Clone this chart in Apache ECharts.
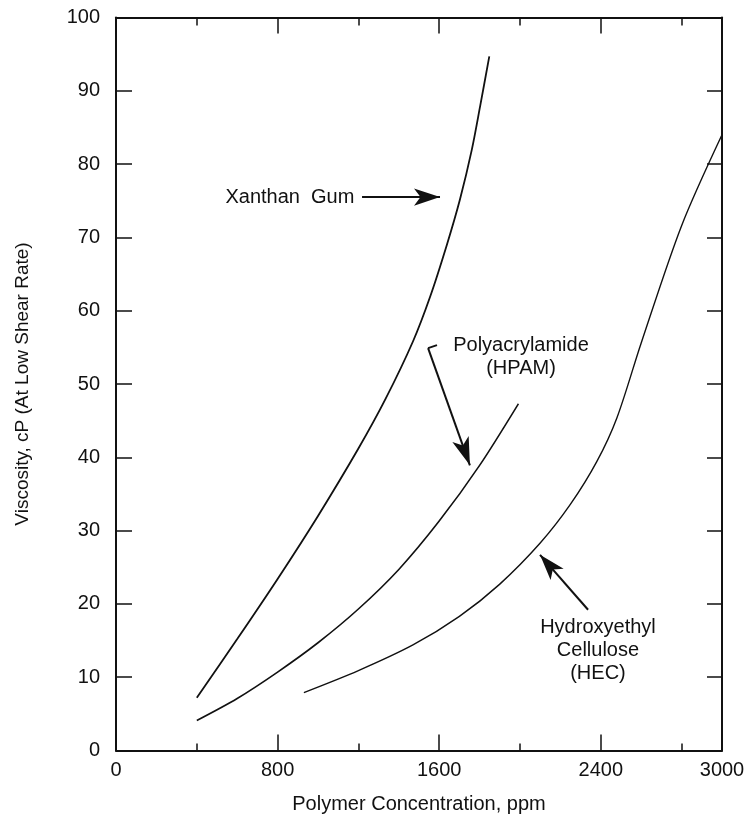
<!DOCTYPE html>
<html>
<head>
<meta charset="utf-8">
<script src="https://cdn.jsdelivr.net/npm/echarts@6/dist/echarts.min.js"></script>
<style>
html,body{margin:0;padding:0;background:#fff;}
#chart{width:752px;height:827px;}
</style>
</head>
<body>
<div id="chart"></div>
<script>
// ---- data ----
const xanthanGum = [[400,7.2],[600,15.2],[800,23.4],[1000,32.0],[1200,41.2],[1335,48.0],[1470,55.8],[1555,61.9],[1637,68.9],[1703,75.2],[1761,81.9],[1802,87.8],[1848,94.7]];
const polyacrylamide = [[400,4.1],[600,7.1],[800,10.7],[1000,14.7],[1200,19.3],[1400,24.7],[1600,31.3],[1800,38.9],[1992,47.3]];
const hec = [[930,7.9],[1200,10.9],[1470,14.4],[1700,18.3],[1900,22.7],[2100,28.3],[2250,33.6],[2380,39.4],[2480,45.4],[2600,55.6],[2800,71.6],[3000,84.0]];
const xLabelValues = [0, 800, 1600, 2400, 3000];
const yTicks = [0,10,20,30,40,50,60,70,80,90,100];

// annotation anchor points (data coordinates)
const xanthanArrow = [[1218,75.5],[1604,75.5]];
const hpamHook = [[1545,54.9],[1589,55.3]];
const hpamArrow = [[1545,54.9],[1752,38.9]];
const hecArrow = [[2337,19.2],[2099,26.7]];
const labelXanthan = [861,75.5];
const labelHPAM = [2005,53.75];
const labelHEC = [2386,13.7];

const FONT = 'Liberation Sans, Arial, Helvetica, sans-serif';
const chart = echarts.init(document.getElementById('chart'));

const lineStyleAxis = {color:'#111', width:2};
function xAx(pos, interval, tickLen, showLabel, showLine){
  return {
    type:'value', position:pos, min:0, max:3000, interval:interval,
    axisLine:{show:showLine, onZero:false, lineStyle:lineStyleAxis},
    axisTick:{show:true, inside:true, length:tickLen, lineStyle:{color:'#111', width:1.5}},
    axisLabel:{show:showLabel, color:'#111', fontFamily:FONT, fontSize:20, margin:10,
      formatter:function(v){ return xLabelValues.indexOf(v) >= 0 ? String(v) : ''; }},
    splitLine:{show:false},
    name: (pos==='bottom' && showLabel) ? 'Polymer Concentration, ppm' : '',
    nameLocation:'middle', nameGap:44,
    nameTextStyle:{color:'#111', fontFamily:FONT, fontSize:20}
  };
}

const option = {
  animation:false,
  backgroundColor:'#fff',
  grid:{left:116, right:30, top:17.5, bottom:76.5, containLabel:false},
  xAxis:[
    xAx('bottom',400,7,true,true),
    xAx('bottom',800,16,false,false),
    xAx('top',400,8,false,true),
    xAx('top',800,16,false,false)
  ],
  yAxis:[
    {type:'value', position:'left', min:0, max:100, interval:10,
     axisLine:{show:true, onZero:false, lineStyle:lineStyleAxis},
     axisTick:{show:true, inside:true, length:16, lineStyle:{color:'#111', width:1.5}},
     axisLabel:{color:'#111', fontFamily:FONT, fontSize:20, margin:16,
       formatter:function(v){ return yTicks.indexOf(v)>=0 ? String(v) : ''; }},
     splitLine:{show:false},
     name:'Viscosity, cP (At Low Shear Rate)', nameLocation:'middle', nameGap:84,
     nameTextStyle:{color:'#111', fontFamily:FONT, fontSize:19}},
    {type:'value', position:'right', min:0, max:100, interval:10,
     axisLine:{show:true, onZero:false, lineStyle:lineStyleAxis},
     axisTick:{show:true, inside:true, length:15, lineStyle:{color:'#111', width:1.5}},
     axisLabel:{show:false}, splitLine:{show:false}}
  ],
  series:[
    {name:'Xanthan Gum', type:'line', data:xanthanGum, smooth:0.3, showSymbol:false,
     lineStyle:{color:'#111', width:1.8}, silent:true,
     markLine:{silent:true, symbol:['none','arrow'], symbolSize:[13,26], label:{show:false},
       lineStyle:{color:'#111', width:2, type:'solid'},
       data:[[{coord:xanthanArrow[0]},{coord:xanthanArrow[1]}]]},
     markPoint:{silent:true, symbol:'circle', symbolSize:1, itemStyle:{color:'rgba(0,0,0,0)'},
       label:{show:true, position:'inside', color:'#111', fontFamily:FONT, fontSize:20},
       data:[{coord:labelXanthan, label:{formatter:'Xanthan  Gum'}}]}},
    {name:'Polyacrylamide (HPAM)', type:'line', data:polyacrylamide, smooth:0.3, showSymbol:false,
     lineStyle:{color:'#111', width:1.6}, silent:true,
     markLine:{silent:true, symbol:['none','arrow'], symbolSize:[13,28], label:{show:false},
       lineStyle:{color:'#111', width:2, type:'solid'},
       data:[[{coord:hpamArrow[0]},{coord:hpamArrow[1]}],
             [{coord:hpamHook[0], symbol:'none'},{coord:hpamHook[1], symbol:'none'}]]},
     markPoint:{silent:true, symbol:'circle', symbolSize:1, itemStyle:{color:'rgba(0,0,0,0)'},
       label:{show:true, position:'inside', color:'#111', fontFamily:FONT, fontSize:20, lineHeight:23, align:'center'},
       data:[{coord:labelHPAM, label:{formatter:'Polyacrylamide\n(HPAM)'}}]}},
    {name:'Hydroxyethyl Cellulose (HEC)', type:'line', data:hec, smooth:0.3, showSymbol:false,
     lineStyle:{color:'#111', width:1.4}, silent:true,
     markLine:{silent:true, symbol:['none','arrow'], symbolSize:[13,26], label:{show:false},
       lineStyle:{color:'#111', width:2, type:'solid'},
       data:[[{coord:hecArrow[0]},{coord:hecArrow[1]}]]},
     markPoint:{silent:true, symbol:'circle', symbolSize:1, itemStyle:{color:'rgba(0,0,0,0)'},
       label:{show:true, position:'inside', color:'#111', fontFamily:FONT, fontSize:20, lineHeight:23, align:'center'},
       data:[{coord:labelHEC, label:{formatter:'Hydroxyethyl\nCellulose\n(HEC)'}}]}}
  ]
};
chart.setOption(option);
</script>
</body>
</html>
